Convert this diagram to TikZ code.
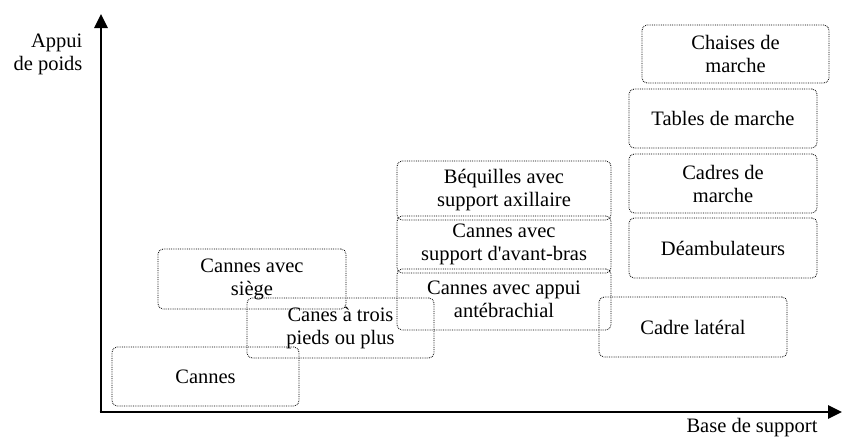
\documentclass[tikz,border=0pt]{standalone}
\usepackage{fontspec}
\setmainfont{Liberation Serif}
\usetikzlibrary{arrows.meta}
\begin{document}
\begin{tikzpicture}[x=1pt,y=-1pt,
  box/.style={draw, densely dotted, line width=0.8pt, rounded corners=5pt, align=center, inner sep=0pt,
    font=\fontsize{20.5}{23}\selectfont},
  lbl/.style={align=center, font=\fontsize{20.5}{23}\selectfont, inner sep=0pt},
  axis/.style={line width=2.8pt, -{Triangle[length=14pt,width=13pt]}}]
\useasboundingbox (0,0) rectangle (843,437);
\coordinate (o) at (101,412);
\coordinate (ytip) at (101,14);
\coordinate (xtip) at (842,412);
\draw[axis] ([yshift=1.4pt]o) -- (ytip);
\draw[axis] ([xshift=-1.4pt]o) -- (xtip);
\node[lbl, align=right] (ylab) at (48,54) {Appui\\de poids};
\node[lbl] (xlab) at (752,428) {Base de support};
% boxes: center, width, height
\node[box, minimum width=187pt, minimum height=58pt] (chaises) at (735.5,54) {Chaises de\\marche};
\node[box, minimum width=188pt, minimum height=59pt] (tables) at (723,118.5) {Tables de marche};
\node[box, minimum width=188pt, minimum height=59pt] (cadres) at (723,183.5) {Cadres de\\marche};
\node[box, minimum width=188pt, minimum height=60pt] (deamb) at (723,248) {Déambulateurs};
\node[box, minimum width=188pt, minimum height=60pt] (lateral) at (693,327) {Cadre latéral};
\node[box, minimum width=214pt, minimum height=59pt] (bequilles) at (504,190.5) {Béquilles avec\\support axillaire};
\node[box, minimum width=214pt, minimum height=57pt] (avantbras) at (504,244.5) {Cannes avec\\support d\textquotesingle avant-bras};
\node[box, minimum width=214pt, minimum height=61pt] (antebr) at (504,299.5) {Cannes avec appui\\antébrachial};
\node[box, minimum width=188pt, minimum height=60pt] (siege) at (252,279) {Cannes avec\\siège};
\node[box, minimum width=187pt, minimum height=60pt] (trois) at (340.5,328) {Canes à trois\\pieds ou plus};
\node[box, minimum width=187pt, minimum height=59pt] (cannes) at (205.5,376.5) {Cannes};
\end{tikzpicture}
\end{document}
